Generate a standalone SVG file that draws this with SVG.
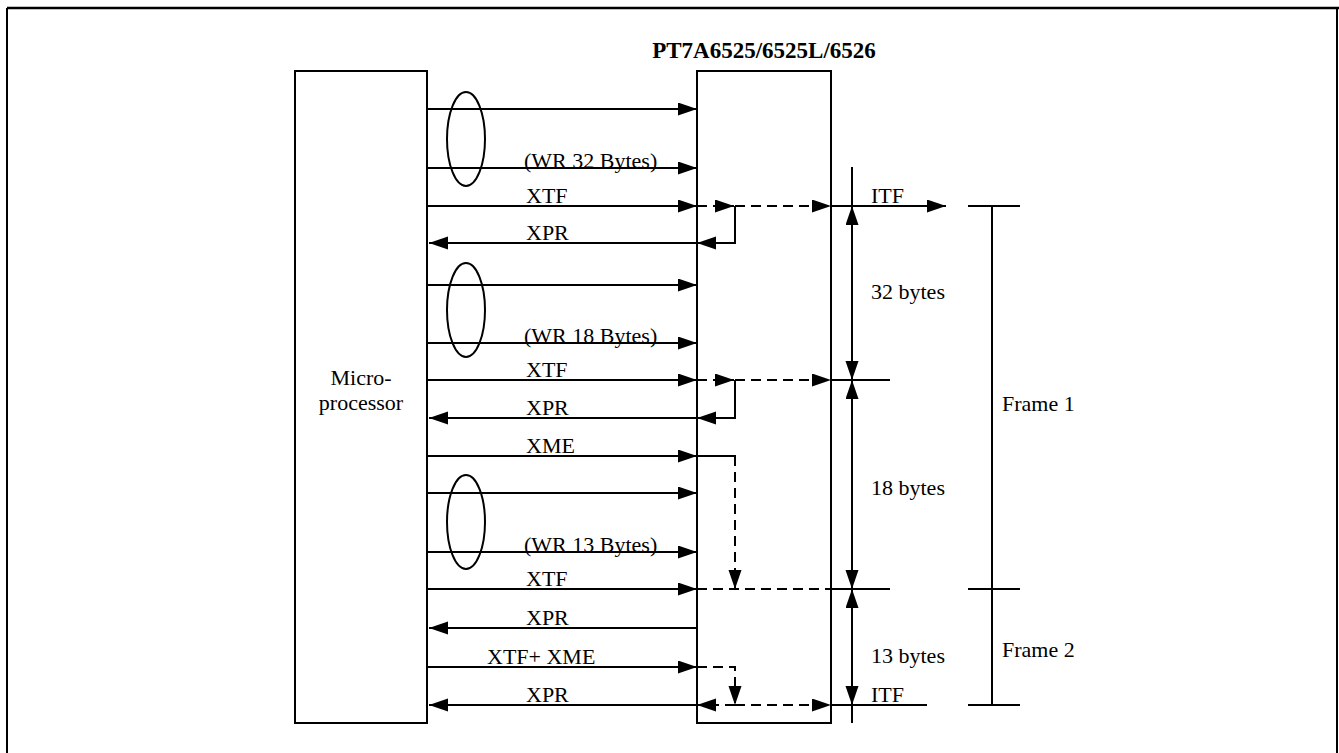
<svg xmlns="http://www.w3.org/2000/svg" width="1339" height="753" viewBox="0 0 1339 753">
<style>
.ln{stroke:#000;stroke-width:2;fill:none}
.ds{stroke:#000;stroke-width:2;fill:none;stroke-dasharray:10,6}
.bx{stroke:#000;stroke-width:2;fill:#fff}
.t{font-family:"Liberation Serif","Times New Roman",serif;font-size:22px;fill:#000}
.tb{font-family:"Liberation Serif","Times New Roman",serif;font-size:23px;font-weight:bold;fill:#000}
</style>
<defs>
<marker id="ah" markerUnits="userSpaceOnUse" markerWidth="20" markerHeight="14" refX="19" refY="6.5" orient="auto-start-reverse">
<path d="M0,0 L19,6.5 L0,13 z" fill="#000"/>
</marker>
</defs>
<rect width="1339" height="753" fill="#fff"/>
<g id="frame">
<line x1="7" y1="8" x2="1339" y2="8" stroke="#000" stroke-width="2.5"/>
<line x1="7" y1="8" x2="7" y2="753" stroke="#000" stroke-width="2"/>
<line x1="1337" y1="8" x2="1337" y2="753" stroke="#000" stroke-width="2"/>
</g>
<g id="microprocessor">
<rect class="bx" x="295" y="71" width="132" height="652"/>
<text class="t" x="361" y="385" text-anchor="middle">Micro-</text>
<text class="t" x="361" y="410" text-anchor="middle">processor</text>
</g>
<g id="pt7a">
<rect class="bx" x="697" y="71" width="134" height="652"/>
<text class="tb" x="764" y="58" text-anchor="middle">PT7A6525/6525L/6526</text>
</g>
<g id="ellipses">
<ellipse class="ln" cx="466" cy="139" rx="19" ry="47"/>
<ellipse class="ln" cx="466" cy="310" rx="19" ry="47"/>
<ellipse class="ln" cx="466" cy="522" rx="19" ry="47"/>
</g>
<g id="connectors">
<line class="ln" x1="427" y1="109" x2="697" y2="109" marker-end="url(#ah)"/>
<line class="ln" x1="427" y1="168" x2="697" y2="168" marker-end="url(#ah)"/>
<line class="ln" x1="427" y1="206" x2="697" y2="206" marker-end="url(#ah)"/>
<line class="ln" x1="697" y1="243" x2="429" y2="243" marker-end="url(#ah)"/>
<line class="ds" x1="697" y1="206" x2="734" y2="206" marker-end="url(#ah)"/>
<line class="ds" x1="735" y1="206" x2="831" y2="206" marker-end="url(#ah)"/>
<polyline class="ln" points="735,206 735,243 697,243" marker-end="url(#ah)"/>
<line class="ln" x1="831" y1="206" x2="946" y2="206" marker-end="url(#ah)"/>
<line class="ln" x1="427" y1="285" x2="697" y2="285" marker-end="url(#ah)"/>
<line class="ln" x1="427" y1="343" x2="697" y2="343" marker-end="url(#ah)"/>
<line class="ln" x1="427" y1="380" x2="697" y2="380" marker-end="url(#ah)"/>
<line class="ln" x1="697" y1="418" x2="429" y2="418" marker-end="url(#ah)"/>
<line class="ds" x1="697" y1="380" x2="734" y2="380" marker-end="url(#ah)"/>
<line class="ds" x1="735" y1="380" x2="831" y2="380" marker-end="url(#ah)"/>
<polyline class="ln" points="735,380 735,418 697,418" marker-end="url(#ah)"/>
<line class="ln" x1="831" y1="380" x2="890" y2="380"/>
<line class="ln" x1="427" y1="456" x2="697" y2="456" marker-end="url(#ah)"/>
<line class="ln" x1="697" y1="456" x2="736" y2="456"/>
<line class="ds" x1="735" y1="456" x2="735" y2="589" marker-end="url(#ah)"/>
<line class="ln" x1="427" y1="493" x2="697" y2="493" marker-end="url(#ah)"/>
<line class="ln" x1="427" y1="552" x2="697" y2="552" marker-end="url(#ah)"/>
<line class="ln" x1="427" y1="589" x2="697" y2="589" marker-end="url(#ah)"/>
<line class="ds" x1="697" y1="589" x2="831" y2="589"/>
<line class="ln" x1="831" y1="589" x2="890" y2="589"/>
<line class="ln" x1="697" y1="628" x2="429" y2="628" marker-end="url(#ah)"/>
<line class="ln" x1="427" y1="667" x2="697" y2="667" marker-end="url(#ah)"/>
<polyline class="ds" points="697,667 735,667 735,705" marker-end="url(#ah)"/>
<line class="ln" x1="697" y1="705" x2="429" y2="705" marker-end="url(#ah)"/>
<line class="ds" x1="735" y1="705" x2="697" y2="705" marker-end="url(#ah)"/>
<line class="ds" x1="735" y1="705" x2="831" y2="705" marker-end="url(#ah)"/>
<line class="ln" x1="831" y1="705" x2="927" y2="705"/>
<line class="ln" x1="852" y1="167" x2="852" y2="723"/>
<line class="ln" x1="852" y1="206" x2="852" y2="380" marker-start="url(#ah)" marker-end="url(#ah)"/>
<line class="ln" x1="852" y1="380" x2="852" y2="589" marker-start="url(#ah)" marker-end="url(#ah)"/>
<line class="ln" x1="852" y1="589" x2="852" y2="705" marker-start="url(#ah)" marker-end="url(#ah)"/>
<line class="ln" x1="992" y1="206" x2="992" y2="705"/>
<line class="ln" x1="968" y1="206" x2="1020" y2="206"/>
<line class="ln" x1="968" y1="589" x2="1020" y2="589"/>
<line class="ln" x1="968" y1="705" x2="1020" y2="705"/>
</g>
<g id="labels">
<text class="t" x="524" y="168">(WR 32 Bytes)</text>
<text class="t" x="526" y="203">XTF</text>
<text class="t" x="526" y="240">XPR</text>
<text class="t" x="524" y="343">(WR 18 Bytes)</text>
<text class="t" x="526" y="377">XTF</text>
<text class="t" x="526" y="415">XPR</text>
<text class="t" x="526" y="453">XME</text>
<text class="t" x="524" y="552">(WR 13 Bytes)</text>
<text class="t" x="526" y="586">XTF</text>
<text class="t" x="526" y="625">XPR</text>
<text class="t" x="487" y="664">XTF+ XME</text>
<text class="t" x="526" y="702">XPR</text>
<text class="t" x="871" y="203">ITF</text>
<text class="t" x="871" y="299">32 bytes</text>
<text class="t" x="871" y="495">18 bytes</text>
<text class="t" x="871" y="663">13 bytes</text>
<text class="t" x="871" y="702">ITF</text>
<text class="t" x="1002" y="411">Frame 1</text>
<text class="t" x="1002" y="657">Frame 2</text>
</g>
</svg>
